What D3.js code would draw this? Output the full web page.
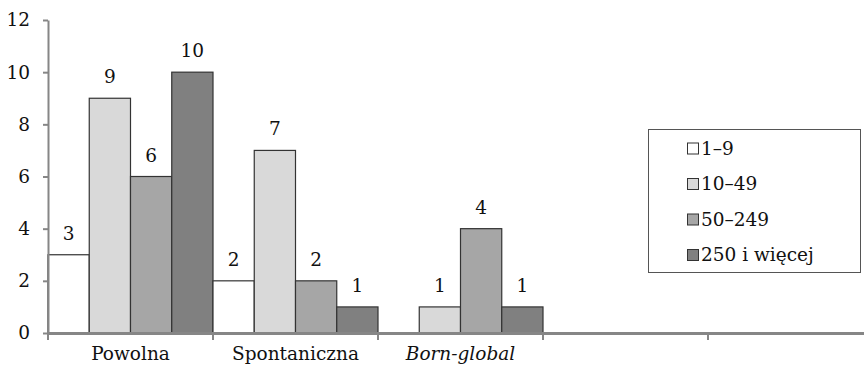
<!DOCTYPE html>
<html><head><meta charset="utf-8">
<script src="https://cdn.jsdelivr.net/npm/d3@7"></script>
<style>
body{margin:0;background:#fff;}
svg{display:block;font-family:"DejaVu Serif",serif;}
</style></head>
<body><svg id="c" width="864" height="366"></svg>
<script>
const categories = ["Powolna", "Spontaniczna", "Born-global", "", " "];
const seriesNames = ["1–9", "10–49", "50–249", "250 i więcej"];
const seriesColors = ["#ffffff", "#d9d9d9", "#a6a6a6", "#808080"];
const values1_9 = [3, 2, null, null, null];
const values10_49 = [9, 7, 1, null, null];
const values50_249 = [6, 2, 4, null, null];
const values250 = [10, 1, 1, null, null];
const yTicks = [0, 2, 4, 6, 8, 10, 12];

const FS = 18.5;
const series = [values1_9, values10_49, values50_249, values250];
const svg = d3.select("#c");
const x0 = d3.scaleBand().domain(categories).range([48, 873]).padding(0);
const x1 = d3.scaleBand().domain(d3.range(4)).range([0, x0.bandwidth()]).padding(0);
const y = d3.scaleLinear().domain([0, 12]).range([333, 20]);

// bars
categories.forEach((c, ci) => {
  series.forEach((s, si) => {
    const v = s[ci];
    if (v == null) return;
    const bx = x0(c) + x1(si);
    svg.append("rect")
      .attr("x", bx).attr("y", y(v))
      .attr("width", x1.bandwidth()).attr("height", y(0) - y(v))
      .attr("fill", seriesColors[si])
      .attr("stroke", "#333").attr("stroke-width", 1.2);
    svg.append("text")
      .attr("x", bx + x1.bandwidth() / 2).attr("y", y(v) - 15)
      .attr("text-anchor", "middle").attr("font-size", FS).attr("fill", "#111")
      .text(v);
  });
});

// y axis
const yAxis = svg.append("g").attr("transform", "translate(48,0)")
  .call(d3.axisLeft(y).tickValues(yTicks).tickSize(5).tickSizeOuter(0).tickPadding(13));
yAxis.selectAll("path,line").attr("stroke", "#868686").attr("stroke-width", 2);
yAxis.selectAll("text").attr("font-size", FS).attr("font-family", "DejaVu Serif").attr("fill", "#111");

// x axis
const xAxis = svg.append("g").attr("transform", "translate(0,333)")
  .call(d3.axisBottom(x0).tickSize(0).tickSizeOuter(0).tickPadding(14));
xAxis.select("path").attr("stroke", "#868686").attr("stroke-width", 3);
xAxis.selectAll("text").attr("font-size", FS).attr("font-family", "DejaVu Serif").attr("fill", "#111")
  .attr("font-style", d => d === "Born-global" ? "italic" : "normal");
// boundary ticks
const bounds = categories.map(c => x0(c)).concat([x0(categories[categories.length - 1]) + x0.bandwidth()]);
svg.append("g").selectAll("line").data(bounds).join("line")
  .attr("x1", d => d).attr("x2", d => d).attr("y1", 333).attr("y2", 340)
  .attr("stroke", "#868686").attr("stroke-width", 2);

// legend
const lg = svg.append("g");
lg.append("rect").attr("x", 648.5).attr("y", 129.5).attr("width", 212).attr("height", 143)
  .attr("fill", "#fff").attr("stroke", "#555").attr("stroke-width", 1);
seriesNames.forEach((n, i) => {
  const cy = 148 + i * 35.5;
  lg.append("rect").attr("x", 687.5).attr("y", cy - 5).attr("width", 11).attr("height", 11)
    .attr("fill", seriesColors[i]).attr("stroke", "#333").attr("stroke-width", 1);
  lg.append("text").attr("x", 701).attr("y", cy + 6.5).attr("font-size", FS).attr("fill", "#111").text(n);
});
</script></body></html>
